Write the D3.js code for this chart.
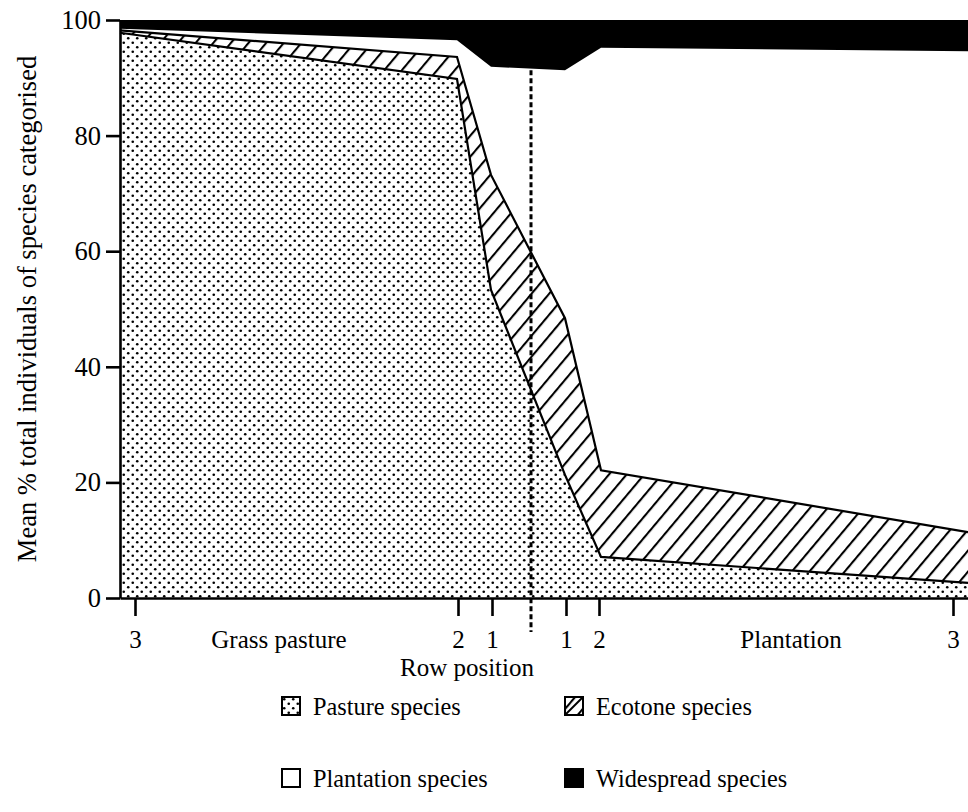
<!DOCTYPE html>
<html>
<head>
<meta charset="utf-8">
<script src="https://cdn.jsdelivr.net/npm/d3@7"></script>
<style>
  html, body { margin: 0; padding: 0; background: #fff; }
  svg, svg text { font-family: "Liberation Serif", "DejaVu Serif", serif; }
  svg { display: block; }
</style>
</head>
<body>
<svg id="chart" width="968" height="812"></svg>
<script>
// Sample positions along the transect (m from the pasture / plantation edge)
const samplePos  = [-41.1, -7.4, -4.0, 3.4, 7.0, 43.7];
// Mean % of categorised individuals in each species group
const pasture    = [97.8, 89.8, 53.3, 21.3, 7.1, 2.6];
const ecotone    = [0.4, 3.8, 19.9, 27.1, 15.0, 8.8];
const plantation = [0.3, 2.9, 18.7, 42.9, 73.1, 83.2];
const widespread = [1.5, 3.5, 8.1, 8.7, 4.8, 5.4];

const seriesKeys  = ["pasture", "ecotone", "plantation", "widespread"];
const seriesNames = ["Pasture species", "Ecotone species", "Plantation species", "Widespread species"];

// Row positions marked on the x axis
const rowTickPos    = [-39.6, -7.3, -3.9, 3.5, 6.8, 42.2];
const rowTickLabels = ["3", "2", "1", "1", "2", "3"];
const zoneLabels    = ["Grass pasture", "Plantation"];
const zoneLabelPos  = [-25.2, 26.0];
const yTicks = [0, 20, 40, 60, 80, 100];

// Edge between pasture and plantation
const edgePos = 0;
const edgeTop = 91.3;

const serif = "Liberation Serif, DejaVu Serif, serif";
const svg = d3.select("#chart").attr("font-family", serif);

const x = d3.scaleLinear()
  .domain([samplePos[0], samplePos[samplePos.length - 1]])
  .range([120, 968]);
const y = d3.scaleLinear().domain([0, 100]).range([598, 20]);

const fontSize = 25;

// Patterns
const defs = svg.append("defs");
const dotTile = 9;
const dots = defs.append("pattern")
  .attr("id", "dots").attr("patternUnits", "userSpaceOnUse")
  .attr("width", dotTile).attr("height", dotTile);
dots.append("rect").attr("width", dotTile).attr("height", dotTile).attr("fill", "#fff");
dots.append("circle").attr("cx", dotTile / 4).attr("cy", dotTile / 4).attr("r", 1.3).attr("fill", "#000");
dots.append("circle").attr("cx", dotTile * 3 / 4).attr("cy", dotTile * 3 / 4).attr("r", 1.3).attr("fill", "#000");

const hatchGap = 13.5;
const hatch = defs.append("pattern")
  .attr("id", "hatch").attr("patternUnits", "userSpaceOnUse")
  .attr("width", hatchGap).attr("height", hatchGap)
  .attr("patternTransform", "rotate(40)");
hatch.append("rect").attr("width", hatchGap).attr("height", hatchGap).attr("fill", "#fff");
hatch.append("line").attr("x1", 2).attr("y1", 0).attr("x2", 2).attr("y2", hatchGap)
  .attr("stroke", "#000").attr("stroke-width", 2.1);

const fills = {
  pasture: "url(#dots)",
  ecotone: "url(#hatch)",
  plantation: "#fff",
  widespread: "#000"
};

// Stacked table
const table = samplePos.map((p, i) => ({
  pos: p,
  pasture: pasture[i],
  ecotone: ecotone[i],
  plantation: plantation[i],
  widespread: widespread[i]
}));
const stacked = d3.stack().keys(seriesKeys)(table);

const area = d3.area()
  .x(d => x(d.data.pos))
  .y0(d => y(d[0]))
  .y1(d => y(d[1]));

svg.append("g").selectAll("path")
  .data(stacked)
  .join("path")
  .attr("d", area)
  .attr("fill", d => fills[d.key])
  .attr("stroke", "none");

// Outline the tops of the pasture and ecotone bands
const topLine = d3.line()
  .x(d => x(d.data.pos))
  .y(d => y(d[1]));
svg.append("g").selectAll("path")
  .data(stacked.filter(s => s.key === "pasture" || s.key === "ecotone"))
  .join("path")
  .attr("d", topLine)
  .attr("fill", "none")
  .attr("stroke", "#000")
  .attr("stroke-width", 2.2)
  .attr("stroke-linejoin", "miter");

// Dashed line marking the edge
svg.append("line")
  .attr("x1", x(edgePos)).attr("x2", x(edgePos))
  .attr("y1", y(edgeTop)).attr("y2", y(0) + 34)
  .attr("stroke", "#000")
  .attr("stroke-width", 3)
  .attr("stroke-dasharray", "5,3");

// Y axis
const yAxis = svg.append("g")
  .attr("transform", `translate(${x.range()[0]},0)`)
  .call(d3.axisLeft(y).tickValues(yTicks).tickSize(14).tickSizeOuter(0).tickPadding(5));
yAxis.attr("font-family", serif);
yAxis.select(".domain").attr("stroke-width", 2.6);
yAxis.selectAll(".tick line").attr("stroke-width", 2.6);
yAxis.selectAll(".tick text")
  .attr("font-size", 26.5)
  .attr("font-family", serif)
  .attr("fill", "#000");

// X axis
const xAxis = svg.append("g")
  .attr("transform", `translate(0,${y(0)})`)
  .call(d3.axisBottom(x).tickValues(rowTickPos)
    .tickFormat((d, i) => rowTickLabels[i])
    .tickSize(18).tickSizeOuter(0).tickPadding(14));
xAxis.attr("font-family", serif);
xAxis.select(".domain").attr("stroke-width", 2.6);
xAxis.selectAll(".tick line").attr("stroke-width", 2.6);
xAxis.selectAll(".tick text")
  .attr("font-size", fontSize)
  .attr("font-family", serif)
  .attr("fill", "#000");

// Zone labels along the x axis
svg.append("g").selectAll("text")
  .data(zoneLabels)
  .join("text")
  .attr("x", (d, i) => x(zoneLabelPos[i]))
  .attr("y", y(0) + 18 + 14)
  .attr("dy", "0.71em")
  .attr("text-anchor", "middle")
  .attr("font-size", fontSize)
  .text(d => d);

// Axis titles
svg.append("text")
  .attr("x", 467).attr("y", 676)
  .attr("text-anchor", "middle")
  .attr("font-size", fontSize)
  .text("Row position");

svg.append("text")
  .attr("transform", "translate(36,309) rotate(-90)")
  .attr("text-anchor", "middle")
  .attr("font-size", 26.5)
  .text("Mean % total individuals of species categorised");

// Legend
const legendCols = [282, 565];
const legendRows = [706, 778];
const box = 18;
const legend = svg.append("g").selectAll("g")
  .data(seriesKeys)
  .join("g")
  .attr("transform", (d, i) => `translate(${legendCols[i % 2]},${legendRows[Math.floor(i / 2)]})`);

legend.append("rect")
  .attr("x", 0).attr("y", -box / 2)
  .attr("width", box).attr("height", box)
  .attr("fill", d => fills[d])
  .attr("stroke", "#000")
  .attr("stroke-width", 2);

legend.filter(d => d === "ecotone").append("line")
  .attr("x1", 0).attr("y1", box / 2)
  .attr("x2", box).attr("y2", -box / 2)
  .attr("stroke", "#000").attr("stroke-width", 2);

legend.append("text")
  .attr("x", 31).attr("y", 0)
  .attr("dy", "0.35em")
  .attr("font-size", 24.3)
  .text((d, i) => seriesNames[i]);
</script>
</body>
</html>
